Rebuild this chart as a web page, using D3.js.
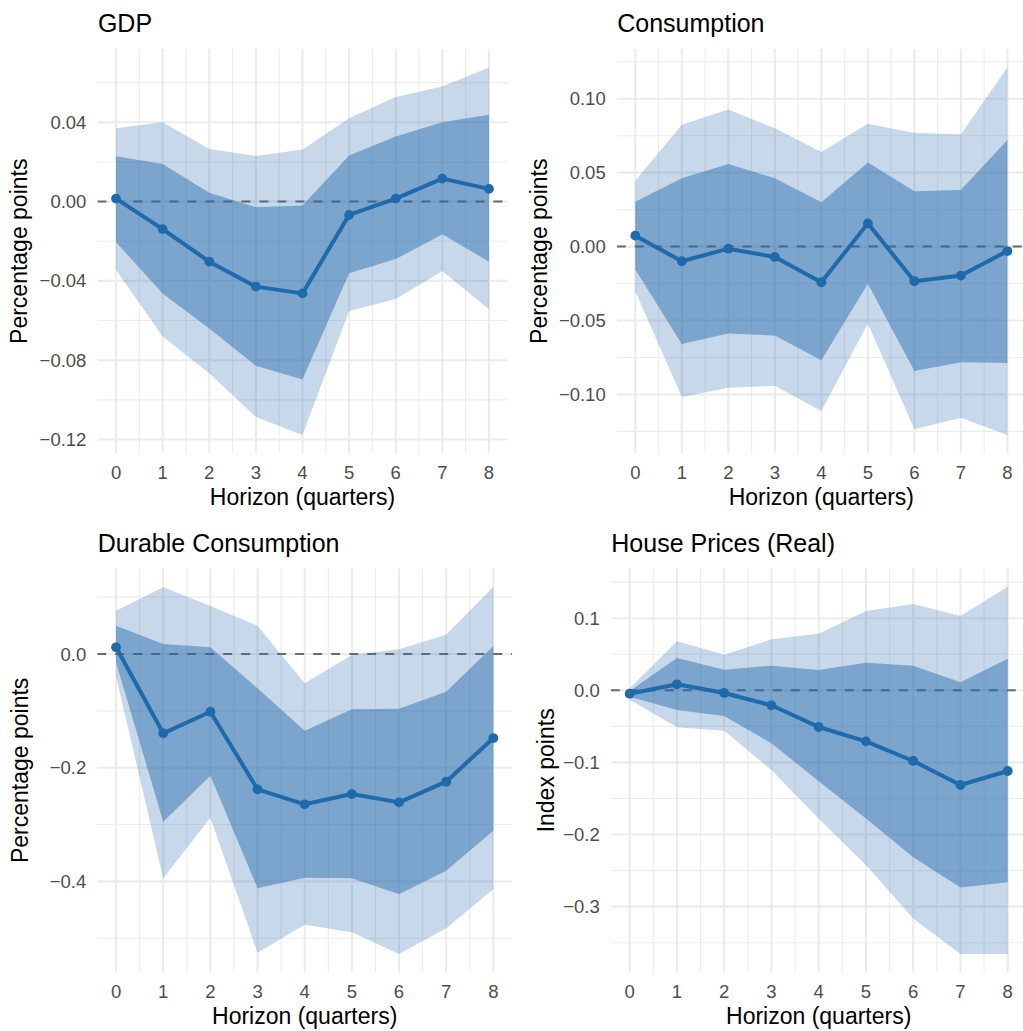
<!DOCTYPE html>
<html>
<head>
<meta charset="utf-8">
<script src="https://cdn.jsdelivr.net/npm/d3@7"></script>
<style>
  body { margin: 0; background: #fff; }
  svg { display: block; font-family: "Liberation Sans", Arial, sans-serif; }
</style>
</head>
<body>
<div id="chart"></div>
<script>
const horizon = [0, 1, 2, 3, 4, 5, 6, 7, 8]

// GDP
const gdpMean = [0.0015, -0.0139, -0.0303, -0.0429, -0.0463, -0.0067, 0.0015, 0.0116, 0.0064]
const gdpHi90 = [0.037, 0.040, 0.0265, 0.023, 0.0263, 0.042, 0.0527, 0.058, 0.0677]
const gdpHi68 = [0.0229, 0.019, 0.0045, -0.0028, -0.002, 0.0232, 0.0328, 0.040, 0.0438]
const gdpLo68 = [-0.0205, -0.0463, -0.064, -0.0828, -0.0897, -0.0362, -0.029, -0.0165, -0.0303]
const gdpLo90 = [-0.0345, -0.068, -0.0866, -0.1086, -0.1178, -0.0552, -0.0491, -0.035, -0.0543]
const gdpTicks = [-0.12, -0.08, -0.04, 0, 0.04]

// Consumption
const consMean = [0.0074, -0.0099, -0.0014, -0.007, -0.0241, 0.0157, -0.0234, -0.0196, -0.003]
const consHi90 = [0.0446, 0.0824, 0.0928, 0.080, 0.064, 0.0831, 0.0768, 0.0759, 0.1212]
const consHi68 = [0.0304, 0.0462, 0.0559, 0.0462, 0.030, 0.0568, 0.0374, 0.0383, 0.0721]
const consLo68 = [-0.0155, -0.0658, -0.0588, -0.0601, -0.0768, -0.0252, -0.0842, -0.0782, -0.0788]
const consLo90 = [-0.0302, -0.1018, -0.0955, -0.0941, -0.1112, -0.052, -0.1236, -0.1158, -0.1275]
const consTicks = [-0.10, -0.05, 0, 0.05, 0.10]

// Durable consumption
const durMean = [0.0118, -0.1395, -0.1015, -0.238, -0.2644, -0.2463, -0.261, -0.2246, -0.1478]
const durHi90 = [0.0762, 0.1173, 0.0844, 0.0498, -0.0516, -0.0018, 0.0082, 0.034, 0.1184]
const durHi68 = [0.0498, 0.0176, 0.0118, -0.0604, -0.1349, -0.0973, -0.0962, -0.0663, 0.0141]
const durLo68 = [-0.015, -0.295, -0.214, -0.412, -0.3935, -0.3946, -0.4227, -0.3811, -0.3108]
const durLo90 = [-0.04, -0.3946, -0.288, -0.5254, -0.476, -0.4896, -0.5277, -0.4825, -0.4139]
const durTicks = [-0.4, -0.2, 0]

// House prices (real)
const houseMean = [-0.0047, 0.0083, -0.0037, -0.0208, -0.0509, -0.0708, -0.098, -0.1313, -0.1119]
const houseHi90 = [0.003, 0.068, 0.0494, 0.0707, 0.0785, 0.11, 0.1197, 0.103, 0.1437]
const houseHi68 = [-0.001, 0.0448, 0.0286, 0.0341, 0.0282, 0.0383, 0.0341, 0.011, 0.0438]
const houseLo68 = [-0.009, -0.0273, -0.0356, -0.0735, -0.126, -0.1776, -0.2316, -0.2733, -0.2663]
const houseLo90 = [-0.013, -0.0513, -0.056, -0.1105, -0.178, -0.2423, -0.3163, -0.3657, -0.3657]
const houseTicks = [-0.3, -0.2, -0.1, 0, 0.1]

const panels = [
    { title: "GDP", ylab: "Percentage points", mean: gdpMean, hi90: gdpHi90, hi68: gdpHi68, lo68: gdpLo68, lo90: gdpLo90, ticks: gdpTicks, digits: 2 },
    { title: "Consumption", ylab: "Percentage points", mean: consMean, hi90: consHi90, hi68: consHi68, lo68: consLo68, lo90: consLo90, ticks: consTicks, digits: 2 },
    { title: "Durable Consumption", ylab: "Percentage points", mean: durMean, hi90: durHi90, hi68: durHi68, lo68: durLo68, lo90: durLo90, ticks: durTicks, digits: 1 },
    { title: "House Prices (Real)", ylab: "Index points", mean: houseMean, hi90: houseHi90, hi68: houseHi68, lo68: houseLo68, lo90: houseLo90, ticks: houseTicks, digits: 1 }
]

const boxes = [
    { l: 97.4, r: 507.6, t: 49, b: 453.5, yl: 27 },
    { l: 616.7, r: 1026, t: 49, b: 453.5, yl: 547 },
    { l: 97.2, r: 512.2, t: 568.3, b: 972.4, yl: 28 },
    { l: 610.8, r: 1026.6, t: 568.3, b: 972.4, yl: 554 }
]

const W = 1023, H = 1031
const lineColor = "#1f6aaa"
const bandColor = "#2268ab"

const svg = d3.select("#chart").append("svg")
    .attr("width", W)
    .attr("height", H)

svg.append("rect").attr("width", W).attr("height", H).attr("fill", "#fff")

const defs = svg.append("defs")

panels.forEach(function (p, i) {
    const box = boxes[i]
    const all = p.hi90.concat(p.lo90, p.mean)
    const lo = d3.min(all), hi = d3.max(all)
    const pad = (hi - lo) * 0.05

    const x = d3.scaleLinear().domain([-0.4, 8.4]).range([box.l, box.r])
    const y = d3.scaleLinear().domain([lo - pad, hi + pad]).range([box.b, box.t])

    defs.append("clipPath").attr("id", "clip" + i)
        .append("rect")
        .attr("x", box.l).attr("y", box.t)
        .attr("width", box.r - box.l).attr("height", box.b - box.t)

    const g = svg.append("g")
    const plot = g.append("g").attr("clip-path", "url(#clip" + i + ")")

    // minor grid
    const step = p.ticks[1] - p.ticks[0]
    const yMinor = d3.range(p.ticks[0] - step * 1.5, p.ticks[p.ticks.length - 1] + step * 1.6, step)
        .filter(v => v > y.domain()[0] && v < y.domain()[1])
    const xMinor = d3.range(0.5, 8, 1)

    plot.selectAll(".ymin").data(yMinor).enter().append("line")
        .attr("x1", box.l).attr("x2", box.r)
        .attr("y1", d => y(d)).attr("y2", d => y(d))
        .attr("stroke", "#ececec").attr("stroke-width", 1.1)
    plot.selectAll(".xmin").data(xMinor).enter().append("line")
        .attr("x1", d => x(d)).attr("x2", d => x(d))
        .attr("y1", box.t).attr("y2", box.b)
        .attr("stroke", "#ececec").attr("stroke-width", 1.1)

    // major grid
    plot.selectAll(".ymaj").data(p.ticks).enter().append("line")
        .attr("x1", box.l).attr("x2", box.r)
        .attr("y1", d => y(d)).attr("y2", d => y(d))
        .attr("stroke", "#ebebeb").attr("stroke-width", 2.1)
    plot.selectAll(".xmaj").data(horizon).enter().append("line")
        .attr("x1", d => x(d)).attr("x2", d => x(d))
        .attr("y1", box.t).attr("y2", box.b)
        .attr("stroke", "#ebebeb").attr("stroke-width", 2.1)

    // zero reference line
    plot.append("line")
        .attr("x1", box.l).attr("x2", box.r)
        .attr("y1", y(0)).attr("y2", y(0))
        .attr("stroke", "#6b6b6b").attr("stroke-width", 2)
        .attr("stroke-dasharray", "9,9")

    const rows = horizon.map((h, k) => ({ h: h, m: p.mean[k], hi90: p.hi90[k], hi68: p.hi68[k], lo68: p.lo68[k], lo90: p.lo90[k] }))

    const area90 = d3.area().x(d => x(d.h)).y0(d => y(d.lo90)).y1(d => y(d.hi90))
    const area68 = d3.area().x(d => x(d.h)).y0(d => y(d.lo68)).y1(d => y(d.hi68))

    plot.append("path").datum(rows)
        .attr("d", area90)
        .attr("fill", bandColor).attr("fill-opacity", 0.26)
    plot.append("path").datum(rows)
        .attr("d", area68)
        .attr("fill", bandColor).attr("fill-opacity", 0.46)

    plot.append("path").datum(rows)
        .attr("d", d3.line().x(d => x(d.h)).y(d => y(d.m)))
        .attr("fill", "none")
        .attr("stroke", lineColor)
        .attr("stroke-width", 4)
        .attr("stroke-linejoin", "round")

    g.selectAll(".pt").data(rows).enter().append("circle")
        .attr("cx", d => x(d.h)).attr("cy", d => y(d.m))
        .attr("r", 4.9)
        .attr("fill", lineColor)

    // y tick labels
    const fmt = d3.format("." + p.digits + "f")
    g.selectAll(".ylab").data(p.ticks).enter().append("text")
        .attr("x", box.l - 11)
        .attr("y", d => y(d) + 6.6)
        .attr("text-anchor", "end")
        .attr("font-size", 18.5)
        .attr("fill", "#4d4d4d")
        .text(d => (d < 0 ? "\u2212" : "") + fmt(Math.abs(d)))

    // x tick labels
    g.selectAll(".xlab").data(horizon).enter().append("text")
        .attr("x", d => x(d))
        .attr("y", box.b + 25.5)
        .attr("text-anchor", "middle")
        .attr("font-size", 18.5)
        .attr("fill", "#4d4d4d")
        .text(d => d)

    g.append("text")
        .attr("x", (box.l + box.r) / 2)
        .attr("y", box.b + 51.7)
        .attr("text-anchor", "middle")
        .attr("font-size", 23)
        .attr("fill", "#000")
        .text("Horizon (quarters)")

    g.append("text")
        .attr("transform", "translate(" + box.yl + "," + ((box.t + box.b) / 2) + ") rotate(-90)")
        .attr("text-anchor", "middle")
        .attr("font-size", 23)
        .attr("fill", "#000")
        .text(p.ylab)

    g.append("text")
        .attr("x", box.l + 0.5)
        .attr("y", box.t - 16.7)
        .attr("font-size", 25)
        .attr("fill", "#000")
        .text(p.title)
})
</script>
</body>
</html>
